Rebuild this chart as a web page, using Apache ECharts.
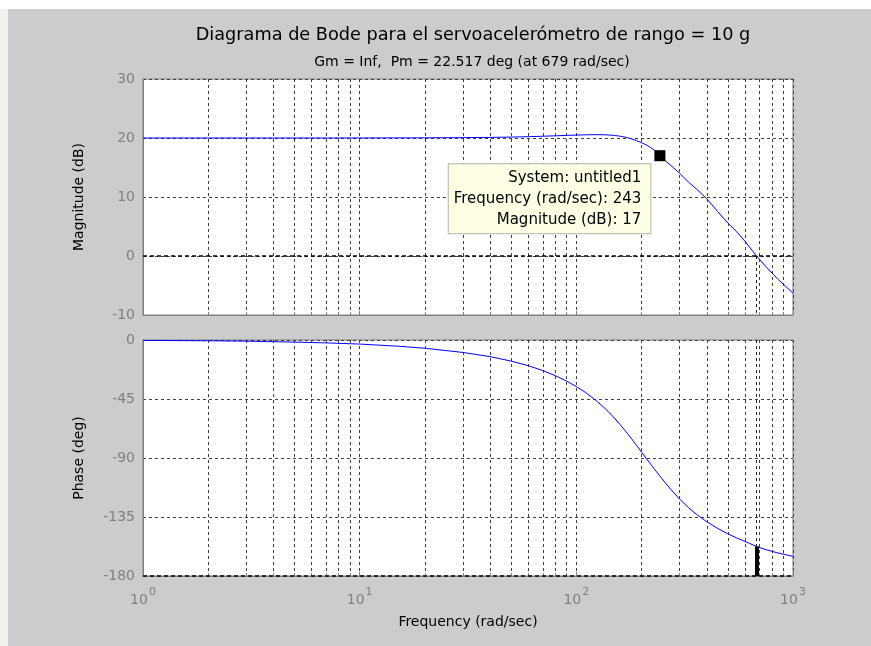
<!DOCTYPE html>
<html>
<head>
<meta charset="utf-8">
<script src="https://cdn.jsdelivr.net/npm/echarts@6/dist/echarts.min.js"></script>
<style>
  html, body { margin: 0; padding: 0; background: #cccccc; }
  #main { width: 871px; height: 646px; }
</style>
</head>
<body>
<div id="main"></div>
<script>
// frecuencias (rad/sec)
const freq = [1, 2, 3, 5, 7, 10, 15, 20, 30, 40, 50, 60, 70, 80, 90, 100, 110, 120, 130, 140, 150,
  160, 170, 180, 190, 200, 210, 220, 230, 243, 260, 280, 300, 330, 360, 400, 450, 500, 550, 600,
  679, 750, 850, 1000];
// magnitud (dB)
const magnitude = [20.0, 20.0, 20.0, 20.0, 20.0, 20.01, 20.02, 20.03, 20.06, 20.1, 20.16, 20.22,
  20.3, 20.37, 20.44, 20.5, 20.54, 20.56, 20.56, 20.52, 20.43, 20.29, 20.1, 19.85, 19.55, 19.2,
  18.85, 18.4, 17.9, 17.0, 16.0, 15.0, 14.0, 12.5, 11.3, 9.7, 7.5, 5.6, 4.1, 2.5, 0.0, -1.8,
  -3.9, -6.3];
// fase (deg)
const phase = [-0.3, -0.6, -0.9, -1.6, -2.2, -3.1, -4.7, -6.3, -9.5, -12.7, -16.1, -19.6, -23.3,
  -27.2, -31.3, -35.5, -39.9, -44.6, -49.4, -54.4, -59.6, -64.9, -70.2, -75.4, -80.6, -85.5,
  -90.2, -94.6, -98.8, -103.8, -109.8, -116.0, -121.4, -128.0, -133.2, -138.6, -143.8, -147.8,
  -151.0, -153.6, -157.5, -159.9, -162.4, -165.0];

const magTicks = [-10, 0, 10, 20, 30];
const phaseTicks = [-180, -135, -90, -45, 0];

// margen de fase y data tip
const pmFreq = 679;
const pmPhase = -157.5;
const tipFreq = 243;
const tipMag = 17;
const tipLines = ['System: untitled1', 'Frequency (rad/sec): 243', 'Magnitude (dB): 17'];

const FONT = 'DejaVu Sans';
const gridDash = [3, 3];

const magData = freq.map((f, i) => [f, magnitude[i]]);
const phaseData = freq.map((f, i) => [f, phase[i]]);

function xAxisCfg(gridIndex, showLabels) {
  return {
    type: 'log',
    logBase: 10,
    gridIndex: gridIndex,
    min: 1,
    max: 1000,
    axisLine: { show: true, onZero: false, lineStyle: { color: '#808080' } },
    axisTick: { show: true, inside: true, length: 4, lineStyle: { color: '#808080' } },
    minorTick: { show: true, splitNumber: 9, length: 3, lineStyle: { color: '#808080' } },
    splitLine: { show: true, lineStyle: { color: '#404040', type: gridDash, width: 1 } },
    minorSplitLine: { show: true, lineStyle: { color: '#404040', type: gridDash, width: 1 } },
    axisLabel: {
      show: showLabels,
      margin: 11,
      formatter: function (v) {
        return '{b|10}{s|' + Math.round(Math.log10(v)) + '}';
      },
      rich: {
        b: { fontFamily: FONT, fontSize: 14, color: '#808080' },
        s: { fontFamily: FONT, fontSize: 11, color: '#808080', padding: [0, 0, 15, 1] }
      }
    },
    name: showLabels ? 'Frequency (rad/sec)' : '',
    nameLocation: 'middle',
    nameGap: 39,
    nameTextStyle: { fontFamily: FONT, fontSize: 14, color: '#000' }
  };
}

function yAxisCfg(gridIndex, ticks, name) {
  return {
    type: 'value',
    gridIndex: gridIndex,
    min: ticks[0],
    max: ticks[ticks.length - 1],
    interval: ticks[1] - ticks[0],
    axisLine: { show: true, onZero: false, lineStyle: { color: '#808080' } },
    axisTick: { show: false },
    splitLine: { show: true, lineStyle: { color: '#404040', type: gridDash, width: 1 } },
    axisLabel: { margin: 8, fontFamily: FONT, fontSize: 14, color: '#808080' },
    name: name,
    nameLocation: 'middle',
    nameGap: 57,
    nameTextStyle: { fontFamily: FONT, fontSize: 14, color: '#000' }
  };
}

const noSym = ['none', 'none'];

const chart = echarts.init(document.getElementById('main'), null, { renderer: 'canvas' });

chart.setOption({
  animation: false,
  backgroundColor: '#cccccc',
  textStyle: { fontFamily: FONT },
  title: [
    {
      text: 'Diagrama de Bode para el servoacelerómetro de rango = 10 g',
      left: 468, top: 21, textAlign: 'center',
      textStyle: { fontFamily: FONT, fontSize: 17.7, fontWeight: 'normal', color: '#000' }
    },
    {
      text: 'Gm = Inf,  Pm = 22.517 deg (at 679 rad/sec)',
      left: 467, top: 50, textAlign: 'center',
      textStyle: { fontFamily: FONT, fontSize: 14, fontWeight: 'normal', color: '#000' }
    }
  ],
  graphic: [
    { type: 'rect', shape: { x: 0, y: 0, width: 871, height: 9 }, style: { fill: '#ffffff' }, z: -1 },
    { type: 'rect', shape: { x: 0, y: 9, width: 8, height: 637 }, style: { fill: '#f2f1ec' }, z: -1 }
  ],
  grid: [
    { left: 143, right: 78, top: 79, height: 236, show: true, backgroundColor: '#ffffff', borderColor: '#808080', borderWidth: 1 },
    { left: 143, right: 78, top: 340, height: 236, show: true, backgroundColor: '#ffffff', borderColor: '#808080', borderWidth: 1 }
  ],
  xAxis: [xAxisCfg(0, false), xAxisCfg(1, true)],
  yAxis: [yAxisCfg(0, magTicks, 'Magnitude (dB)'), yAxisCfg(1, phaseTicks, 'Phase (deg)')],
  series: [
    {
      type: 'line',
      xAxisIndex: 0,
      yAxisIndex: 0,
      data: magData,
      showSymbol: false,
      lineStyle: { color: '#0000ff', width: 1 },
      itemStyle: { color: '#0000ff' },
      z: 3,
      markLine: {
        silent: true,
        symbol: noSym,
        label: { show: false },
        data: [
          [{ coord: [1, 0], lineStyle: { color: '#000', type: [4, 3], width: 1.5 } }, { coord: [1000, 0] }],
          [{ coord: [pmFreq, 0], lineStyle: { color: '#202020', type: gridDash, width: 1 } }, { coord: [pmFreq, magTicks[0]] }]
        ]
      },
      markPoint: {
        silent: true,
        data: [{
          coord: [tipFreq, tipMag],
          symbol: 'rect',
          symbolSize: 11,
          itemStyle: { color: '#000' },
          label: {
            show: true,
            position: 'left',
            distance: 4,
            offset: [0, 43],
            formatter: tipLines.join('\n'),
            align: 'right',
            fontFamily: FONT,
            fontSize: 15,
            lineHeight: 21,
            color: '#000',
            backgroundColor: '#ffffe6',
            borderColor: '#b4b4a8',
            borderWidth: 1,
            padding: [3, 9, 3, 5]
          }
        }]
      }
    },
    {
      type: 'line',
      xAxisIndex: 1,
      yAxisIndex: 1,
      data: phaseData,
      showSymbol: false,
      lineStyle: { color: '#0000ff', width: 1 },
      z: 3,
      markLine: {
        silent: true,
        symbol: noSym,
        label: { show: false },
        data: [
          [{ coord: [1, -180], lineStyle: { color: '#000', type: [4, 3], width: 1.5 } }, { coord: [1000, -180] }],
          [{ coord: [pmFreq, 0], lineStyle: { color: '#202020', type: gridDash, width: 1 } }, { coord: [pmFreq, pmPhase] }],
          [{ coord: [pmFreq, -180], lineStyle: { color: '#000', type: 'solid', width: 4 } }, { coord: [pmFreq, pmPhase] }]
        ]
      }
    }
  ]
});
</script>
</body>
</html>
